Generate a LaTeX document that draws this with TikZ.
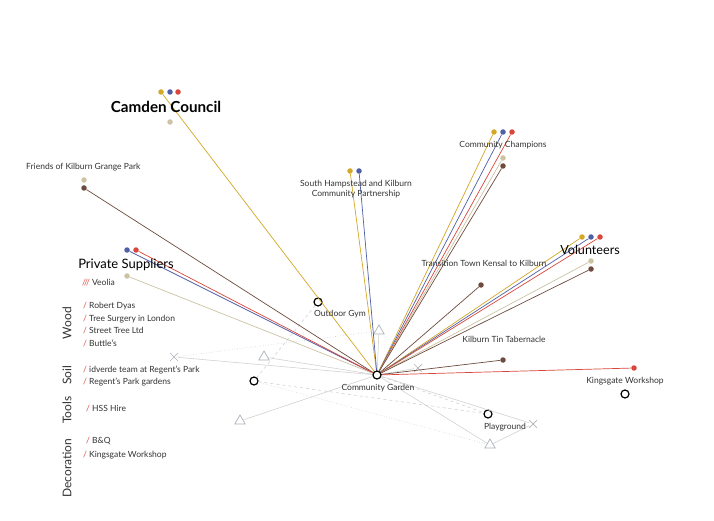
\documentclass[tikz,border=0pt]{standalone}
\usepackage{fontspec}
\setmainfont{Lato}
\usetikzlibrary{shapes.geometric,shapes.misc}
\definecolor{yel}{HTML}{D4A726}
\definecolor{blu}{HTML}{4E5FA6}
\definecolor{rd}{HTML}{D9463A}
\definecolor{bei}{HTML}{CCC3A3}
\definecolor{brn}{HTML}{6E4B3F}
\definecolor{txt}{HTML}{333333}
\definecolor{tricol}{HTML}{AEB2BA}
\definecolor{faintcol}{HTML}{D2D2D2}
\newcommand{\rsl}{\textcolor{rd}{/}}
\begin{document}
\begin{tikzpicture}[x=1pt,y=-1pt,
  dot/.style={circle, fill=#1, inner sep=0pt, minimum size=5.5pt},
  ring/.style={circle, draw=black, line width=1.2pt, fill=white, inner sep=0pt, minimum size=8pt},
  tri/.style={regular polygon, regular polygon sides=3, draw=tricol, line width=0.7pt, inner sep=0pt, minimum size=12pt},
  xmark/.style={cross out, draw=tricol, line width=0.7pt, inner sep=0pt, minimum size=7pt},
  lbl/.style={font=\fontsize{8.5}{10}\selectfont, text=txt, inner sep=0pt},
  lst/.style={lbl, anchor=west},
  cat/.style={font=\fontsize{12}{14}\selectfont, text=txt, inner sep=0pt, rotate=90},
  link/.style={line width=0.7pt},
  faint/.style={draw=faintcol, line width=0.6pt}]
\useasboundingbox[fill=white] (0,0) rectangle (714,521);

% grey symbols
\node[ring] (og) at (318,302) {};
\node[ring] (c2) at (254,381) {};
\node[ring] (pg) at (488,414) {};
\node[ring] (kg) at (625,394) {};
\node[tri] (t1) at (379,331) {};
\node[tri] (t2) at (264,357) {};
\node[tri] (t3) at (240,421) {};
\node[tri] (t4) at (490,445) {};
\node[xmark] (x1) at (174,357) {};
\node[xmark] (x2) at (418,368) {};
\node[xmark] (x3) at (533,424) {};
\coordinate (cgc) at (377,375);

% grey links
\draw[faint] (t1) -- (cgc);
\draw[faint, dashed] (og) -- (c2);
\draw[faint] (x1) -- (cgc);
\draw[faint, dotted] (x1) -- (t1);
\draw[faint] (t2) -- (cgc);
\draw[faint, dashed] (c2) -- (pg);
\draw[faint] (t3) -- (cgc);
\draw[faint] (cgc) -- (x3);
\draw[faint] (cgc) -- (t4);
\draw[faint] (t4) -- (x3);
\draw[faint, dashed] (cgc) -- (pg);
\draw[faint] (cgc) -- (x2);
\draw[faint, dotted] (c2) -- (t4);

% coloured dots
\node[dot=yel] (ccy) at (161,92) {};
\node[dot=blu] (ccb) at (170,92) {};
\node[dot=rd]  (ccr) at (178,92) {};
\node[dot=bei] (cce) at (170,122) {};
\node[dot=bei] (fke) at (84,180) {};
\node[dot=brn] (fkw) at (84,188) {};
\node[dot=yel] (shy) at (350,171) {};
\node[dot=blu] (shb) at (359,171) {};
\node[dot=yel] (chy) at (494,132) {};
\node[dot=blu] (chb) at (503,132) {};
\node[dot=rd]  (chr) at (512,132) {};
\node[dot=bei] (che) at (503,158) {};
\node[dot=brn] (chw) at (503,166) {};
\node[dot=brn] (ttw) at (481,285) {};
\node[dot=yel] (voy) at (582,237) {};
\node[dot=blu] (vob) at (591,237) {};
\node[dot=rd]  (vor) at (600,237) {};
\node[dot=bei] (voe) at (591,261) {};
\node[dot=brn] (vow) at (591,269) {};
\node[dot=brn] (ktw) at (503,360) {};
\node[dot=rd]  (kwr) at (634,368) {};
\node[dot=blu] (psb) at (127,250) {};
\node[dot=rd]  (psr) at (136,250) {};
\node[dot=bei] (pse) at (127,276) {};

% coloured links
\draw[link, yel] (ccy) -- (cgc);
\draw[link, brn] (fkw) -- (cgc);
\draw[link, yel] (shy) -- (cgc);
\draw[link, blu] (shb) -- (cgc);
\draw[link, yel] (chy) -- (cgc);
\draw[link, blu] (chb) -- (cgc);
\draw[link, rd]  (chr) -- (cgc);
\draw[link, bei] (che) -- (cgc);
\draw[link, brn] (chw) -- (cgc);
\draw[link, brn] (ttw) -- (cgc);
\draw[link, yel] (voy) -- (cgc);
\draw[link, blu] (vob) -- (cgc);
\draw[link, rd]  (vor) -- (cgc);
\draw[link, bei] (voe) -- (cgc);
\draw[link, brn] (vow) -- (cgc);
\draw[link, brn] (ktw) -- (cgc);
\draw[link, rd]  (kwr) -- (cgc);
\draw[link, blu] (psb) -- (cgc);
\draw[link, rd]  (psr) -- (cgc);
\draw[link, bei] (pse) -- (cgc);

\node[ring] (cg) at (cgc) {};

% labels
\node[font=\fontsize{15.2}{17}\selectfont\bfseries, inner sep=0pt] (lcc) at (166,107) {Camden Council};
\node[lbl, anchor=west] (lfk) at (26,167) {Friends of Kilburn Grange Park};
\node[lbl, align=center] (lsh) at (356,189) {South Hampstead and Kilburn\\Community Partnership};
\node[lbl] (lch) at (503,145) {Community Champions};
\node[lbl] (ltt) at (484,263) {Transition Town Kensal to Kilburn};
\node[font=\fontsize{12.6}{14}\selectfont, inner sep=0pt] (lvo) at (590,250) {Volunteers};
\node[lbl] (lkt) at (504,339) {Kilburn Tin Tabernacle};
\node[lbl] (lkw) at (625,381) {Kingsgate Workshop};
\node[font=\fontsize{13}{15}\selectfont, inner sep=0pt] (lps) at (126,265) {Private Suppliers};
\node[lbl, anchor=west] (log) at (314,314) {Outdoor Gym};
\node[lbl] (lcg) at (378,388) {Community Garden};
\node[lbl] (lpg) at (505,427) {Playground};

% lists
\node[lst] (lve) at (82,283) {\textcolor{rd}{///} Veolia};
\node[lst] (lw1) at (83,306) {\rsl{} Robert Dyas};
\node[lst] (lw2) at (83,319) {\rsl{} Tree Surgery in London};
\node[lst] (lw3) at (83,331) {\rsl{} Street Tree Ltd};
\node[lst] (lw4) at (83,343) {\rsl{} Buttle's};
\node[lst] (ls1) at (83,370) {\rsl{} idverde team at Regent's Park};
\node[lst] (ls2) at (83,382) {\rsl{} Regent's Park gardens};
\node[lst] (lt1) at (86,409) {\rsl{} HSS Hire};
\node[lst] (ld1) at (86,441) {\rsl{} B\&Q};
\node[lst] (ld2) at (83,455) {\rsl{} Kingsgate Workshop};

\node[cat] (cw) at (67,323) {Wood};
\node[cat] (cs) at (67,375) {Soil};
\node[cat] (ct) at (67,410) {Tools};
\node[cat] (cd) at (67,468) {Decoration};
\end{tikzpicture}
\end{document}
